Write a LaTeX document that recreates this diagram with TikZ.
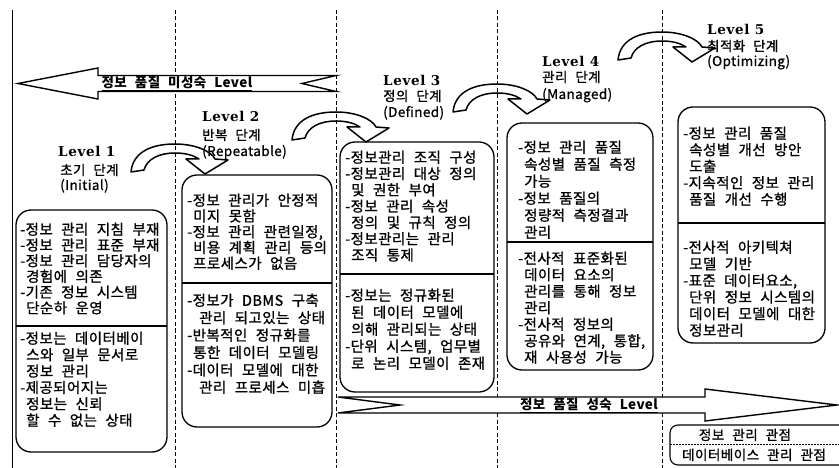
\documentclass[tikz,border=0pt]{standalone}
\usepackage{fontspec}
\newfontfamily\kr[LetterSpace=3,WordSpace=2.3,FakeBold=1]{Noto Sans CJK KR}
\newfontfamily\krb[LetterSpace=3,WordSpace=2.3]{Noto Sans CJK KR}
\newfontfamily\lvfont[LetterSpace=5]{DejaVu Serif}
\newcommand\ind{\hspace*{6pt}}
\newcommand\indd{\hspace*{12pt}}
\tikzset{
  box/.style={draw, line width=1.3pt, rounded corners=15pt, fill=white},
  divl/.style={line width=1.1pt},
  txt/.style={font=\kr\fontsize{14.5}{#1}\selectfont, align=left, inner sep=0pt, anchor=north west},
  lvl/.style={font=\lvfont\bfseries\fontsize{13.5}{15}\selectfont, inner sep=0pt, anchor=base west},
  sub/.style={font=\kr\fontsize{13.5}{15}\selectfont, inner sep=0pt, anchor=base west},
  vdash/.style={dash pattern=on 4pt off 2.5pt, line width=0.9pt},
  bigarrow/.style={draw, line width=1.4pt, fill=white, line join=miter},
  carrow/.style={draw, line width=1.5pt, line join=round},
  atext/.style={font=\krb\bfseries\fontsize{13.5}{15}\selectfont, inner sep=0pt},
  lgtext/.style={font=\kr\fontsize{13.6}{15}\selectfont, inner sep=0pt, anchor=base},
  curvarrow/.pic={
    \draw[carrow] (-44,27) .. controls (-42,6) and (-22,-1) .. (0,-1)
      .. controls (20,-1) and (36,6) .. (40,14) -- (53,15) -- (30,29) -- (11,14) -- (24,14)
      .. controls (18,10) and (10,8) .. (0,8)
      .. controls (-16,8) and (-28,14) .. (-31,25) -- cycle;
  }
}
\begin{document}
\begin{tikzpicture}[x=1pt,y=-1pt]
\useasboundingbox (0,0) rectangle (839,468);
% column separators
\draw[line width=1pt] (12.5,10) -- (12.5,468);
\foreach \xx in {175,336,497,662} \draw[vdash] (\xx,10) -- (\xx,468);
% boxes
\draw[box] (16,210) rectangle (167,452);
\draw[divl] (16,326) -- (167,326);
\draw[box] (182,175) rectangle (332,427);
\draw[divl] (182,283) -- (332,283);
\draw[box] (340,142) rectangle (494,392);
\draw[divl] (340,274) -- (494,274);
\draw[box] (507,123) rectangle (653,370);
\draw[divl] (507,242) -- (653,242);
\draw[box] (678,107) rectangle (825,343);
\draw[divl] (678,223) -- (825,223);
% curved arrows
\pic at (175,145) {curvarrow};
\pic at (336,113) {curvarrow};
\pic at (497,85) {curvarrow};
\pic at (662,33) {curvarrow};
% big arrows
\draw[bigarrow] (18,83.5) -- (98,68) -- (98,75.5) -- (336,75.5) -- (302,83.5) -- (336,91.5) -- (98,91.5) -- (98,99) -- cycle;
\node[atext] (immat) at (177,83.5) {\underline{정보 품질 미성숙 Level}};
\draw[bigarrow] (338,397) -- (400,405) -- (338,413) -- (705,413) -- (705,421) -- (837,405) -- (705,389) -- (705,397) -- cycle;
\node[atext] (mat) at (589,405) {\underline{정보 품질 성숙 Level}};
% level labels
\node[lvl] (l1) at (58,157) {Level 1};
\node[sub] (l1a) at (60,175) {초기 단계};
\node[sub] (l1b) at (60,190) {(Initial)};
\node[lvl] (l2) at (202,122) {Level 2};
\node[sub] (l2a) at (202,140) {반복 단계};
\node[sub] (l2b) at (202,156) {(Repeatable)};
\node[lvl] (l3) at (383,86) {Level 3};
\node[sub] (l3a) at (383,101) {정의 단계};
\node[sub] (l3b) at (383,117) {(Defined)};
\node[lvl] (l4) at (542,67) {Level 4};
\node[sub] (l4a) at (542,82) {관리 단계};
\node[sub] (l4b) at (542,99) {(Managed)};
\node[lvl] (l5) at (707,35) {Level 5};
\node[sub] (l5a) at (707,51) {최적화 단계};
\node[sub] (l5b) at (707,66) {(Optimizing)};
% box texts
\node[txt=15.7] (b1u) at (20,222.5) {-정보 관리 지침 부재\\-정보 관리 표준 부재\\-정보 관리 담당자의\\\ind 경험에 의존\\-기존 정보 시스템\\\ind 단순하 운영};
\node[txt=16.4] (b1l) at (20,331.5) {-정보는 데이터베이\\\ind 스와 일부 문서로\\\ind 정보 관리\\-제공되어지는\\\ind 정보는 신뢰\\\ind 할 수 없는 상태};
\node[txt=15.75] (b2u) at (187,193.5) {-정보 관리가 안정적\\\ind 미지 못함\\-정보 관리 관련일정,\\\ind 비용 계획 관리 등의\\\ind 프로세스가 없음};
\node[txt=17.4] (b2l) at (187,293.5) {-정보가 DBMS 구축\\\indd 관리 되고있는 상태\\-반복적인 정규화를\\\ind 통한 데이터 모델링\\-데이터 모델에 대한\\\indd 관리 프로세스 미흡};
\node[txt=16.3] (b3u) at (345,150.5) {-정보관리 조직 구성\\-정보관리 대상 정의\\\ind 및 권한 부여\\-정보 관리 속성\\\ind 정의 및 규칙 정의\\-정보관리는 관리\\\ind 조직 통제};
\node[txt=17] (b3l) at (345,288.5) {-정보는 정규화된\\\ind 된 데이터 모델에\\\ind 의해 관리되는 상태\\-단위 시스템, 업무별\\\ind 로 논리 모델이 존재};
\node[txt=17] (b4u) at (518,140.5) {-정보 관리 품질\\\ind 속성별 품질 측정\\\ind 가능\\-정보 품질의\\\ind 정량적 측정결과\\\ind 관리};
\node[txt=16.5] (b4l) at (518,251.5) {-전사적 표준화된\\\ind 데이터 요소의\\\ind 관리를 통해 정보\\\ind 관리\\-전사적 정보의\\\ind 공유와 연계, 통합,\\\ind 재 사용성 가능};
\node[txt=16.5] (b5u) at (683,126.5) {-정보 관리 품질\\\ind 속성별 개선 방안\\\ind 도출\\-지속적인 정보 관리\\\ind 품질 개선 수행};
\node[txt=16.6] (b5l) at (683,240.5) {-전사적 아키텍쳐\\\ind 모델 기반\\-표준 데이터요소,\\\ind 단위 정보 시스템의\\\ind 데이터 모델에 대한\\\ind 정보관리};
% legend
\draw[line width=1.1pt, rounded corners=8pt] (850,425) -- (670,425) -- (670,465) -- (850,465);
\draw[line width=0.8pt, dash pattern=on 2pt off 1pt] (670,444) -- (839,444);
\node[lgtext] (lg1) at (745,440) {정보 관리 관점};
\node[lgtext] (lg2) at (754,460) {데이터베이스 관리 관점};
\end{tikzpicture}
\end{document}
